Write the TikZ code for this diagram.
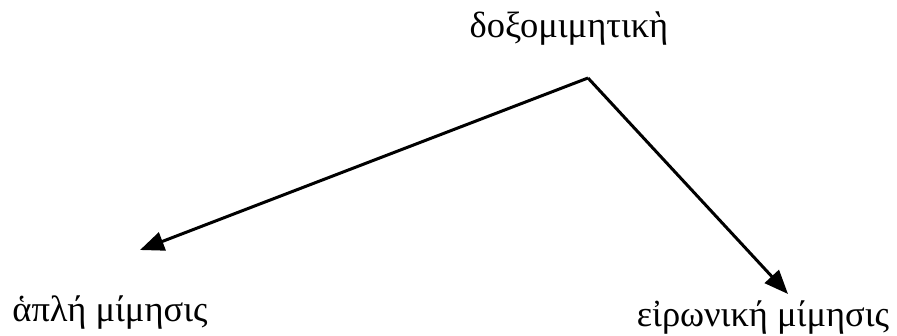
\documentclass[tikz,border=0pt]{standalone}
\usepackage{fontspec}
\setmainfont{Liberation Serif}
\usetikzlibrary{arrows.meta}
\begin{document}
\begin{tikzpicture}[x=1pt,y=-1pt,
  lbl/.style={font=\fontsize{36.5}{40}\selectfont, anchor=base, inner sep=0pt},
  arr/.style={line width=3pt, -{Triangle[length=24pt,width=19pt]}}]
\useasboundingbox (0,0) rectangle (897,336);
\node[lbl] (top) at (569,38) {δοξομιμητικὴ};
\node[lbl] (left) at (110,322) {ἁπλή μίμησις};
\node[lbl] (right) at (763,327) {εἰρωνική μίμησις};
\coordinate (apex) at (588,78);
\coordinate (ltip) at (140,250);
\coordinate (rtip) at (788,294);
\draw[arr] (apex) -- (ltip);
\draw[arr] (apex) -- (rtip);
\end{tikzpicture}
\end{document}
